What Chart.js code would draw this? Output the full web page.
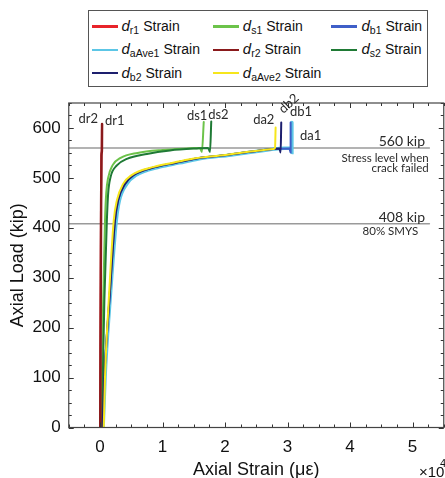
<!DOCTYPE html>
<html>
<head>
<meta charset="utf-8">
<script src="https://cdn.jsdelivr.net/npm/chart.js@4.4.0/dist/chart.umd.min.js"></script>
<style>
  html, body { margin: 0; padding: 0; background: #fff; }
  #wrap { position: relative; width: 445px; height: 478px; }
  #legend {
    position: absolute; left: 88px; top: 10px; width: 340px; height: 77px;
    box-sizing: border-box; border: 1.5px solid #555; background: #fff;
    padding: 4px 0 0 2.5px;
    display: grid; grid-template-columns: 121.3px 118.7px 95px; grid-auto-rows: 23.3px;
    font-family: "Liberation Sans", Arial, sans-serif; font-size: 14px; color: #111;
  }
  .item { display: flex; align-items: center; white-space: nowrap; }
  .swatch { width: 26px; height: 2.5px; margin-right: 4px; flex: none; }
  .txt { line-height: 16px; }
  .txt i { font-size: 15px; }
  .txt sub { font-size: 10.5px; position: relative; top: 3px; vertical-align: baseline; margin-right: 4px; }
</style>
</head>
<body>
<div id="wrap">
  <canvas id="chart" width="445" height="478"></canvas>
  <div id="legend"></div>
</div>
<script>
// axis ticks
const strainTicks = [0, 1, 2, 3, 4, 5];          // x 10^4 micro-strain
const loadTicks = [0, 100, 200, 300, 400, 500, 600];

// legend order (row by row)
const seriesNames = ['r1', 's1', 'b1', 'aAve1', 'r2', 's2', 'b2', 'aAve2'];
const seriesColors = ['#e8242a', '#6cc34a', '#3f5fc8', '#5cc6e6', '#8a1a1c', '#1f7a35', '#1d1f6e', '#f6e61c'];

// load (kip) and strain (x 10^4)
const r1Load   = [0, 150, 300, 450, 545, 553, 560, 598];
const r1Strain = [0.002, 0.006, 0.011, 0.016, 0.022, 0.028, 0.029, 0.031];
const r2Load   = [0, 150, 300, 450, 545, 553, 560, 608];
const r2Strain = [0.004, 0.008, 0.013, 0.018, 0.024, 0.03, 0.031, 0.033];

const s1Load   = [0, 100, 250, 415, 470, 500, 525, 540, 550, 556, 559, 560, 552, 612];
const s1Strain = [0.02, 0.03, 0.05, 0.08, 0.1, 0.13, 0.2, 0.33, 0.6, 1.0, 1.4, 1.6, 1.63, 1.66];
const s2Load   = [0, 100, 255, 415, 468, 502, 525, 538, 548, 555, 559, 560, 552, 613];
const s2Strain = [0.03, 0.045, 0.07, 0.11, 0.13, 0.17, 0.27, 0.43, 0.75, 1.12, 1.55, 1.73, 1.76, 1.78];

const b1Load   = [0, 100, 255, 415, 455, 488, 505, 522, 530, 538, 546, 555, 558, 559, 551, 611];
const b1Strain = [0.04, 0.07, 0.15, 0.24, 0.29, 0.4, 0.53, 0.9, 1.2, 1.5, 2.03, 2.56, 2.77, 3.03, 3.05, 3.05];
const b2Load   = [0, 100, 255, 415, 455, 488, 505, 522, 530, 538, 546, 555, 558, 559, 551, 611];
const b2Strain = [0.04, 0.07, 0.15, 0.24, 0.29, 0.4, 0.53, 0.9, 1.2, 1.5, 2.03, 2.56, 2.77, 2.87, 2.89, 2.9];

const a1Load   = [0, 100, 255, 415, 455, 488, 505, 522, 530, 538, 546, 555, 558, 560, 551, 611];
const a1Strain = [0.05, 0.08, 0.16, 0.26, 0.31, 0.43, 0.57, 0.96, 1.27, 1.57, 2.1, 2.62, 2.8, 3.06, 3.07, 3.07];
const a2Load   = [0, 100, 255, 415, 455, 488, 505, 522, 530, 538, 546, 555, 558, 560, 601];
const a2Strain = [0.06, 0.08, 0.14, 0.22, 0.27, 0.37, 0.5, 0.86, 1.15, 1.46, 2.0, 2.55, 2.78, 2.8, 2.81];

// reference load levels
const refLoads = [560, 408];
const refFrom = -0.5, refTo = 5.27;

const seriesLoads = [r1Load, s1Load, b1Load, a1Load, r2Load, s2Load, b2Load, a2Load];
const seriesStrains = [r1Strain, s1Strain, b1Strain, a1Strain, r2Strain, s2Strain, b2Strain, a2Strain];
const drawOrder = [3, 7, 8, 9, 2, 6, 5, 4];   // lower = drawn on top

function points(xs, ys) {
  return xs.map((v, i) => ({ x: v, y: ys[i] }));
}

const datasets = seriesNames.map((n, i) => ({
  label: 'd_' + n + ' Strain',
  data: points(seriesStrains[i], seriesLoads[i]),
  borderColor: seriesColors[i],
  borderWidth: n === 'aAve1' ? 3.5 : (n === 'r2' ? 2.5 : 2),
  cubicInterpolationMode: 'monotone',
  order: drawOrder[i]
}));
refLoads.forEach(v => datasets.push({
  label: 'ref',
  data: points([refFrom, refTo], [v, v]),
  borderColor: '#9a9a9a',
  borderWidth: 1.5,
  order: 20
}));

// html legend
const legend = document.getElementById('legend');
seriesNames.forEach((n, i) => {
  legend.insertAdjacentHTML('beforeend',
    `<div class="item"><span class="swatch" style="background:${seriesColors[i]}"></span><span class="txt"><i>d</i><sub>${n}</sub>Strain</span></div>`);
});

// text put on the plot, in data coordinates
const tags = [
  { t: 'dr2', x: -0.03, y: 619, align: 'right' },
  { t: 'dr1', x: 0.08, y: 615 },
  { t: 'ds1', x: 1.39, y: 625 },
  { t: 'ds2', x: 1.73, y: 627 },
  { t: 'da2', x: 2.45, y: 617 },
  { t: 'db2', x: 3.02, y: 649, align: 'center', rot: -0.75 },
  { t: 'db1', x: 3.04, y: 633 },
  { t: 'da1', x: 3.2, y: 585 }
];
const notes = [
  { t: '560 kip', x: 5.2, y: 573, size: 14 },
  { t: 'Stress level when', x: 5.26, y: 539, size: 11.5 },
  { t: 'crack failed', x: 5.26, y: 519, size: 11.5 },
  { t: '408 kip', x: 5.2, y: 421, size: 14 },
  { t: '80% SMYS', x: 5.09, y: 393, size: 11.5 }
];

const frame = {
  id: 'frame',
  afterDatasetsDraw(chart) {
    const { ctx, chartArea: a, scales: { x, y } } = chart;
    ctx.save();
    ctx.strokeStyle = '#333';
    ctx.lineWidth = 1;
    ctx.beginPath();
    for (let v = -0.5; v <= 5.5001; v += 0.25) {
      const px = Math.round(x.getPixelForValue(v)) + 0.5;
      const len = Math.abs(v - Math.round(v)) < 1e-6 ? 5 : 3;
      ctx.moveTo(px, a.bottom); ctx.lineTo(px, a.bottom - len);
      ctx.moveTo(px, a.top); ctx.lineTo(px, a.top + len);
    }
    for (let v = 0; v <= 650; v += 25) {
      const py = Math.round(y.getPixelForValue(v)) + 0.5;
      const len = v % 100 === 0 ? 5 : 3;
      ctx.moveTo(a.left, py); ctx.lineTo(a.left + len, py);
      ctx.moveTo(a.right, py); ctx.lineTo(a.right - len, py);
    }
    ctx.stroke();
    ctx.lineWidth = 1.2;
    ctx.strokeStyle = '#444';
    ctx.strokeRect(a.left, a.top, a.right - a.left, a.bottom - a.top);

    ctx.fillStyle = '#2a2a2a';
    ctx.textBaseline = 'middle';
    ctx.font = '13px Lato, "Liberation Sans", sans-serif';
    tags.forEach(g => {
      ctx.save();
      ctx.translate(x.getPixelForValue(g.x), y.getPixelForValue(g.y));
      if (g.rot) ctx.rotate(g.rot);
      ctx.textAlign = g.align || 'left';
      ctx.fillText(g.t, 0, 0);
      ctx.restore();
    });
    ctx.textAlign = 'right';
    notes.forEach(n => {
      ctx.font = n.size + 'px Lato, "Liberation Sans", sans-serif';
      ctx.fillText(n.t, x.getPixelForValue(n.x), y.getPixelForValue(n.y));
    });

    // exponent of the strain axis
    ctx.fillStyle = '#111';
    ctx.textAlign = 'left';
    ctx.textBaseline = 'alphabetic';
    ctx.font = '15px "Liberation Sans", Arial, sans-serif';
    ctx.fillText('\u00d710', 419, 477);
    ctx.font = '11px "Liberation Sans", Arial, sans-serif';
    ctx.fillText('4', 440, 467);
    ctx.restore();
  }
};

new Chart(document.getElementById('chart'), {
  type: 'line',
  data: { datasets: datasets },
  options: {
    responsive: false,
    animation: false,
    events: [],
    layout: { padding: { top: 103, right: 1.25, bottom: 0, left: 0 } },
    elements: { point: { radius: 0 }, line: { tension: 0, borderCapStyle: 'round' } },
    plugins: { legend: { display: false }, tooltip: { enabled: false } },
    scales: {
      x: {
        type: 'linear', min: -0.5, max: 5.5,
        grid: { display: false, drawTicks: false },
        border: { display: false },
        afterBuildTicks: s => { s.ticks = strainTicks.map(v => ({ value: v })); },
        afterFit: s => { s.height = 50.5; },
        ticks: { padding: 10, color: '#111', font: { family: '"Liberation Sans", Arial, sans-serif', size: 17 } },
        title: {
          display: true, text: 'Axial Strain (\u03bc\u03b5)', color: '#111',
          padding: 0,
          font: { family: '"Liberation Sans", Arial, sans-serif', size: 18, lineHeight: 0.9 }
        }
      },
      y: {
        type: 'linear', min: 0, max: 650,
        grid: { display: false, drawTicks: false },
        border: { display: false },
        afterBuildTicks: s => { s.ticks = loadTicks.map(v => ({ value: v })); },
        afterFit: s => { s.width = 68.75; },
        ticks: { padding: 8, color: '#111', font: { family: '"Liberation Sans", Arial, sans-serif', size: 17 } },
        title: {
          display: true, text: 'Axial Load (kip)', color: '#111',
          padding: { top: 7.5, bottom: 0 },
          font: { family: '"Liberation Sans", Arial, sans-serif', size: 18, lineHeight: 1.2 }
        }
      }
    }
  },
  plugins: [frame]
});
</script>
</body>
</html>
